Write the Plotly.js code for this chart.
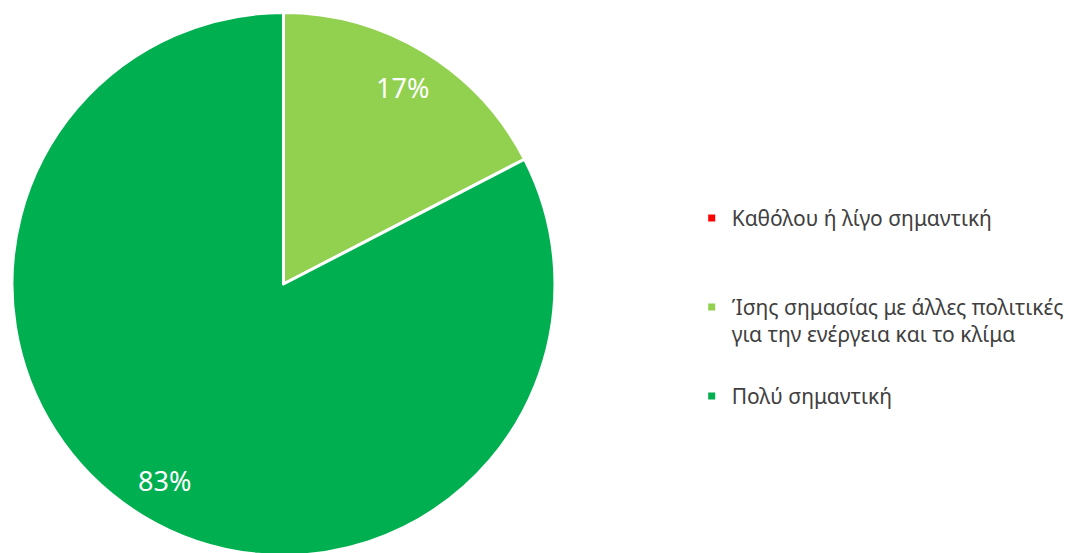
<!DOCTYPE html>
<html>
<head>
<meta charset="utf-8">
<script src="https://cdn.plot.ly/plotly-3.0.1.min.js"></script>
<style>
  html, body { margin: 0; padding: 0; overflow: hidden; background: #ffffff; }
  #chart { width: 1069px; height: 568px; }
</style>
</head>
<body>
<div id="chart"></div>
<script>
// Data
const categories = [
  'Καθόλου ή λίγο σημαντική',
  'Ίσης σημασίας με άλλες πολιτικές<br>για την ενέργεια και το κλίμα',
  'Πολύ σημαντική'
];
const values = [0, 17.4, 82.6];
const colors = ['#FF0000', '#92D050', '#00B050'];

const W = 1069, H = 568;
const cx = 284, cy = 284, R = 272;
const labelRadius = 0.845; // fraction of radius where % labels sit

const total = values.reduce((a, b) => a + b, 0);

const pieTrace = {
  type: 'pie',
  labels: categories,
  values: values,
  sort: false,
  direction: 'clockwise',
  rotation: 0,
  showlegend: false,
  domain: { x: [(cx - R) / W, (cx + R) / W], y: [1 - (cy + R) / H, 1 - (cy - R) / H] },
  marker: { colors: colors, line: { color: '#ffffff', width: 3 } },
  textinfo: 'none',
  hoverinfo: 'label+percent'
};

// Percentage labels placed at each slice's mid-angle
const annotations = [];
let cum = 0;
values.forEach((v, i) => {
  const mid = (cum + v / 2) / total * 2 * Math.PI;
  cum += v;
  if (v <= 0) return;
  const d = R * labelRadius;
  annotations.push({
    xref: 'paper', yref: 'paper',
    x: (cx + d * Math.sin(mid)) / W,
    y: 1 - (cy - d * Math.cos(mid)) / H,
    text: Math.round(v / total * 100) + '%',
    showarrow: false,
    xanchor: 'center', yanchor: 'middle',
    font: { family: 'Noto Sans', size: 27, color: '#ffffff' }
  });
});

const legendTraces = categories.map((c, i) => ({
  type: 'scatter',
  x: [null],
  y: [null],
  mode: 'markers',
  name: i === 0 ? c + '<br>&nbsp;' : c,
  legendgroup: 'g' + i,
  marker: { symbol: 'square', size: 7, color: colors[i] },
  hoverinfo: 'skip'
}));

const fontSize = 21;
const L = fontSize * 1.3;

const layout = {
  width: W,
  height: H,
  margin: { l: 0, r: 0, t: 0, b: 0 },
  paper_bgcolor: '#ffffff',
  plot_bgcolor: '#ffffff',
  xaxis: { visible: false },
  yaxis: { visible: false },
  showlegend: true,
  annotations: annotations,
  legend: {
    x: 693 / W,
    xanchor: 'left',
    y: 1 - (218 - (L / 2 + 6.5)) / H,
    yanchor: 'top',
    valign: 'top',
    tracegroupgap: 89 - 2 * L - 3,
    font: { family: 'Noto Sans', size: fontSize, color: '#404040' },
    bgcolor: 'rgba(0,0,0,0)',
    borderwidth: 0
  }
};

Plotly.newPlot('chart', [pieTrace].concat(legendTraces), layout, { displayModeBar: false });
</script>
</body>
</html>
